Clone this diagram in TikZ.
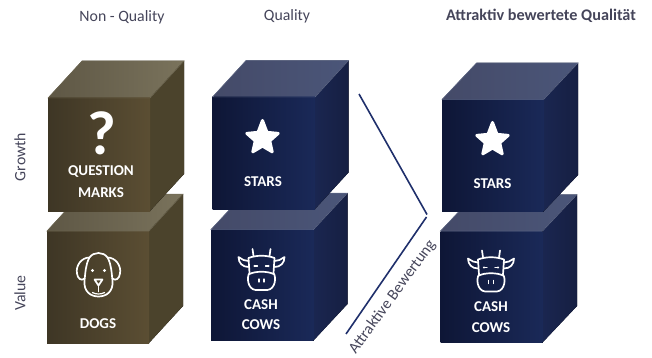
\documentclass[tikz,border=0pt]{standalone}
\usepackage{fontspec}
\setmainfont{Carlito}
\definecolor{brA}{HTML}{3E3625}
\definecolor{brB}{HTML}{5B4E33}
\definecolor{brT}{HTML}{5E5745}
\definecolor{brU}{HTML}{7A735C}
\definecolor{brS}{HTML}{4B432C}
\definecolor{nvA}{HTML}{0E1636}
\definecolor{nvB}{HTML}{1A2958}
\definecolor{nvT}{HTML}{444A68}
\definecolor{nvU}{HTML}{4B5679}
\definecolor{nvS}{HTML}{1A2650}
\definecolor{nvR}{HTML}{161F42}
\definecolor{labelgrey}{HTML}{45455A}
\definecolor{chevron}{HTML}{1F2F6B}
\newcommand{\cubebox}[9]{%
  \fill[left color=#9,right color=\cubeU] (#1,#2) -- ++(#5,-#6) -- ++(#3,0) -- ++(-#5,#6) -- cycle;
  \fill[left color=\cubeS,right color=\cubeR] (#1+#3,#2) -- ++(#5,-#6) -- ++(0,#4) -- ++(-#5,#6) -- cycle;
  \fill[left color=#7,right color=#8] (#1,#2) rectangle ++(#3,#4);
  \draw[\cubeE,line width=.5pt] (#1,#2) -- ++(#5,-#6) -- ++(#3,0) -- ++(-#5,#6) -- cycle;
}
\newcommand{\brownset}{\def\cubeU{brU}\def\cubeS{brS}\def\cubeR{brS}\def\cubeE{brU!70!brT}}
\newcommand{\navyset}{\def\cubeU{nvU}\def\cubeS{nvS}\def\cubeR{nvR}\def\cubeE{nvU!85!white}}
\tikzset{
  x=1pt,y=-1pt,
  head/.style={text=labelgrey,font=\fontsize{15.8}{18}\selectfont,inner sep=0pt},
  boxlabel/.style={text=white,font=\bfseries\fontsize{15}{17}\selectfont,inner sep=0pt},
  iconline/.style={draw=white,line width=1.7pt,line join=round,line cap=round},
  starglyph/.pic={\fill[white,draw=white,line width=3pt,line join=round]
     (-90:18) -- (-54:7.6) -- (-18:16.5) -- (18:7.6) -- (54:16.5) -- (90:7.6) -- (126:16.5) -- (162:7.6) -- (198:16.5) -- (234:7.6) -- cycle;},
  dogglyph/.pic={
    \draw[iconline] (-9,-17) .. controls (-5,-23) and (5,-23) .. (9,-17)
       .. controls (13,-10) and (13,-2) .. (14,6)
       .. controls (15,17) and (8,22) .. (0,22)
       .. controls (-8,22) and (-15,17) .. (-14,6)
       .. controls (-13,-2) and (-13,-10) .. (-9,-17);
    \draw[iconline] (-9,-17) .. controls (-17,-17) and (-23,-9) .. (-21.5,-1)
       .. controls (-21,4) and (-17,7) .. (-14,4);
    \draw[iconline] (9,-17) .. controls (17,-17) and (23,-9) .. (21.5,-1)
       .. controls (21,4) and (17,7) .. (14,4);
    \fill[white] (-6,-4) circle (1.7) (6,-4) circle (1.7);
    \draw[iconline] (-4,5) -- (4,5) -- (0,11) -- cycle;
    \draw[iconline] (0,11) -- (0,17);
    \draw[iconline,line width=1.2pt] (-6,18) .. controls (-3,20) and (3,20) .. (6,18);
  },
  cowglyph/.pic={
    \draw[iconline] (-13,-11) .. controls (-5,-14) and (5,-14) .. (13,-11)
       -- (12,4) .. controls (15,8) and (14,20) .. (6,21) -- (-6,21)
       .. controls (-14,20) and (-15,8) .. (-12,4) -- cycle;
    \draw[iconline] (-13,-8) -- (-18,-9) -- (-23,-12) .. controls (-23,-6) and (-19,-2) .. (-13,-2);
    \draw[iconline] (13,-8) -- (18,-9) -- (23,-12) .. controls (23,-6) and (19,-2) .. (13,-2);
    \draw[iconline] (-8,-13) -- (-9,-20);
    \draw[iconline] (8,-13) -- (9,-20);
    \draw[iconline] (-12,5) .. controls (-6,2) and (6,2) .. (12,5);
    \draw[iconline,line width=1.2pt] (-7,-3) -- (-4,-3) (7,-3) -- (4,-3);
    \fill[white] (-7,-3) circle (1.2) (7,-3) circle (1.2);
    \draw[iconline,line width=1.2pt] (-2.5,10) -- (-2.5,13) (2.5,10) -- (2.5,13);
  }
}
\begin{document}
\begin{tikzpicture}
\useasboundingbox (0,0) rectangle (652,358);

% brown column
\brownset
\cubebox{47}{231}{102}{112}{34}{37}{brA}{brB}{brT}
\cubebox{48}{98}{102}{113}{34}{37}{brA}{brB}{brT}
% navy middle column
\navyset
\cubebox{211}{229.5}{102.5}{111}{34}{36.5}{nvA}{nvB}{nvT}
\cubebox{212.5}{97}{102.5}{112}{33.5}{36.5}{nvA}{nvB}{nvT}
% navy right column
\cubebox{440.5}{231}{102}{111.5}{34.5}{36.5}{nvA}{nvB}{nvT}
\cubebox{442}{99.5}{101.5}{112}{34.5}{36.5}{nvA}{nvB}{nvT}

% headings
\node[head] (hNon) at (122,17) {Non - Quality};
\node[head] (hQual) at (287,16) {Quality};
\node[head,font=\bfseries\fontsize{16.2}{18}\selectfont] (hAttr) at (541,16) {Attraktiv bewertete Qualität};
\node[head,rotate=90] (hGrowth) at (20,157) {Growth};
\node[head,rotate=90] (hValue) at (20,293) {Value};

% glyphs
\node[text=white,font=\bfseries\fontsize{62}{62}\selectfont,inner sep=0pt] (qmark) at (101.5,133.5) {?};
\pic at (262.5,138.5) {starglyph};
\pic at (492.5,140.5) {starglyph};
\pic at (98.5,274.5) {dogglyph};
\pic at (261.5,269) {cowglyph};
\pic at (491,270.5) {cowglyph};

% box labels
\node[boxlabel] (q1) at (101,172) {QUESTION};
\node[boxlabel] (q2) at (101,192.5) {MARKS};
\node[boxlabel] (dogs) at (98,324) {DOGS};
\node[boxlabel] (s1) at (263,182) {STARS};
\node[boxlabel] (s2) at (492.5,184) {STARS};
\node[boxlabel] (c1) at (261,304.5) {CASH};
\node[boxlabel] (c2) at (261,325) {COWS};
\node[boxlabel] (c3) at (491,307) {CASH};
\node[boxlabel] (c4) at (491,328) {COWS};

% chevron
\coordinate (chevA) at (359,94);
\coordinate (chevB) at (427,214.5);
\coordinate (chevC) at (426.5,217);
\coordinate (chevD) at (346,334);
\draw[chevron,line width=1.6pt] (chevA) -- (chevB);
\draw[chevron,line width=1.6pt] (chevC) -- (chevD);
\node[head,rotate=54] (hBew) at (392.5,297) {Attraktive Bewertung};
\end{tikzpicture}
\end{document}
